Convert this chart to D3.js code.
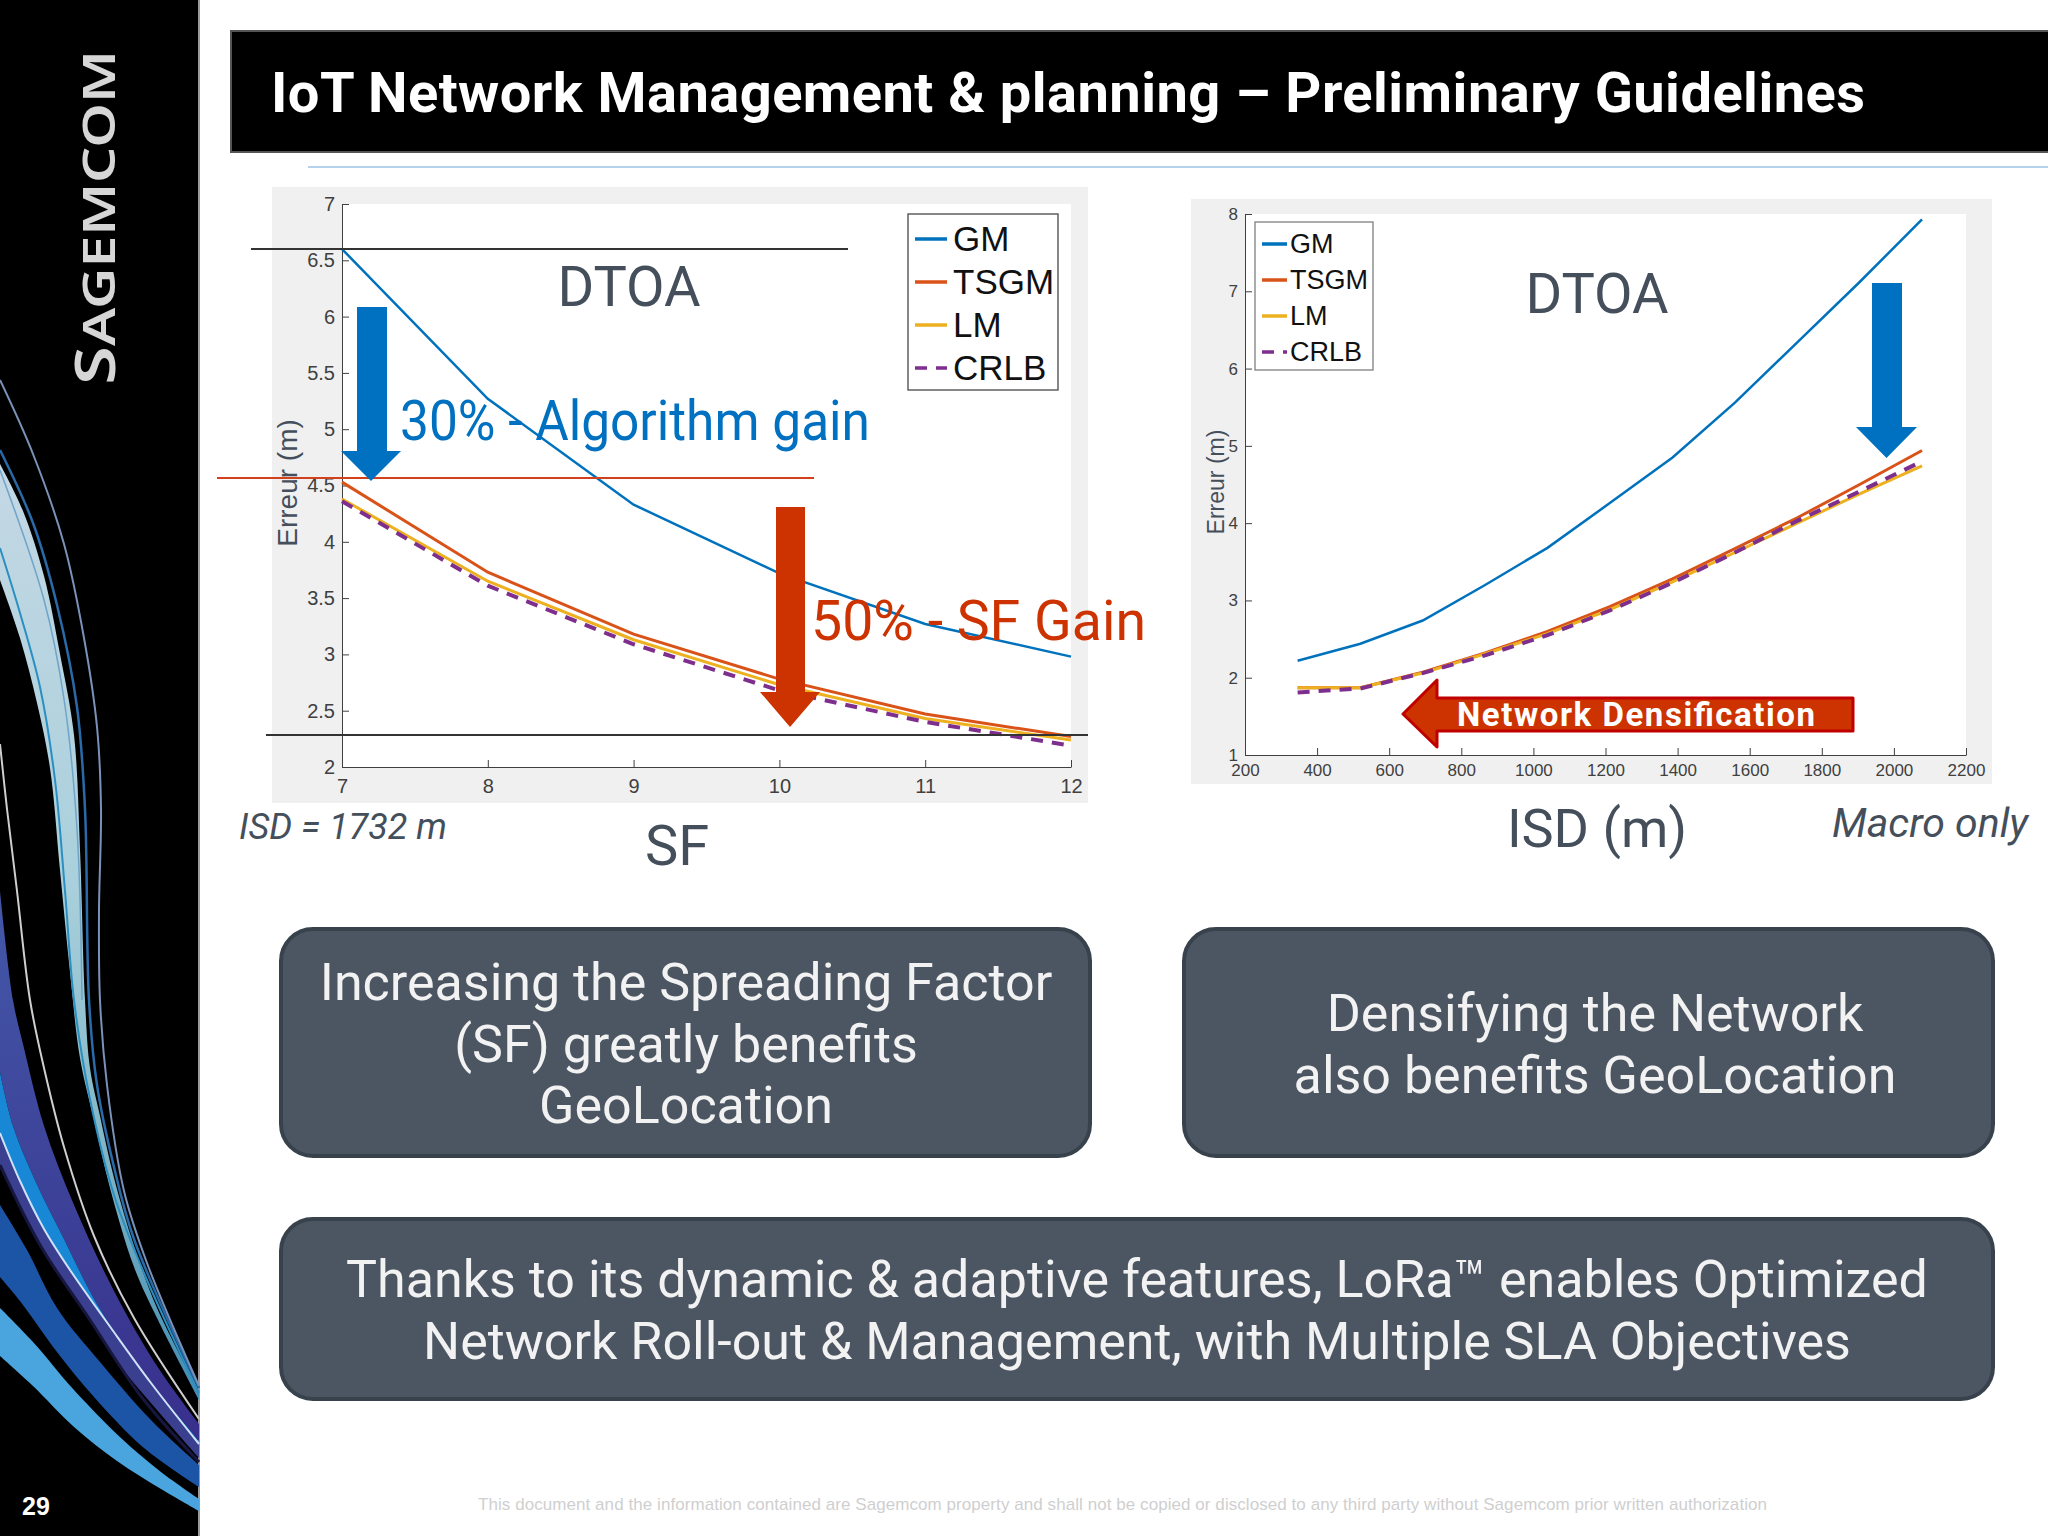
<!DOCTYPE html>
<head>
  <meta charset="utf-8">
  <script src="https://d3js.org/d3.v7.min.js"></script>
  <style>
    body { margin:0; background:#fff; }
    svg { display:block; }
    text { font-family:Roboto, sans-serif; }
    .axis text { font-family:"Liberation Sans", sans-serif; fill:#404040; }
    .axis path, .axis line { stroke:#404040; }
  </style>
</head>

<body>
  <script>

    // left chart, error against spreading factor
    var sfValues = [7, 8, 9, 10, 11, 12];
    var sfGM = [6.6, 5.27, 4.33, 3.72, 3.27, 2.98];
    var sfTSGM = [4.53, 3.73, 3.18, 2.78, 2.47, 2.27];
    var sfLM = [4.38, 3.65, 3.13, 2.73, 2.43, 2.24];
    var sfCRLB = [4.36, 3.61, 3.09, 2.68, 2.40, 2.19];
    var sfYTicks = [2, 2.5, 3, 3.5, 4, 4.5, 5, 5.5, 6, 6.5, 7];

    // right chart, error against inter site distance
    var isdValues = [346, 520, 693, 866, 1039, 1212, 1386, 1559, 1732, 1905, 2078];
    var isdGM = [2.22, 2.44, 2.74, 3.2, 3.68, 4.26, 4.85, 5.56, 6.34, 7.12, 7.93];
    var isdTSGM = [1.87, 1.87, 2.07, 2.32, 2.6, 2.92, 3.28, 3.67, 4.07, 4.5, 4.94];
    var isdLM = [1.87, 1.87, 2.06, 2.31, 2.57, 2.88, 3.24, 3.62, 4.0, 4.38, 4.74];
    var isdCRLB = [1.81, 1.86, 2.06, 2.29, 2.55, 2.87, 3.23, 3.62, 4.03, 4.41, 4.8];
    var isdXTicks = [200, 400, 600, 800, 1000, 1200, 1400, 1600, 1800, 2000, 2200];
    var isdYTicks = [1, 2, 3, 4, 5, 6, 7, 8];

    var seriesNames = ["GM", "TSGM", "LM", "CRLB"];
    var seriesColors = ["#0072BD", "#D95319", "#EDB120", "#7E2F8E"];
    var seriesWidths = [2.5, 3, 3, 4];

    var textGrey = "#454f5b";
    var blue = "#0070c0";
    var red = "#cc3300";

    var svg = d3.select("body").append("svg")
      .attr("width", 2048)
      .attr("height", 1536);

    function label(parent, str, x, y, size, fill, anchor) {
      return parent.append("text")
        .attr("x", x).attr("y", y)
        .attr("font-size", size)
        .attr("fill", fill)
        .attr("text-anchor", anchor || "start")
        .text(str);
    }

    /* ---------- left band ---------- */

    var defs = svg.append("defs");
    var paleGrad = defs.append("linearGradient").attr("id", "pale")
      .attr("x1", 0).attr("y1", 0).attr("x2", 0).attr("y2", 1);
    paleGrad.append("stop").attr("offset", "0%").attr("stop-color", "#c4d8e4");
    paleGrad.append("stop").attr("offset", "45%").attr("stop-color", "#a9d0dc");
    paleGrad.append("stop").attr("offset", "75%").attr("stop-color", "#7fb3c4");
    paleGrad.append("stop").attr("offset", "100%").attr("stop-color", "#3f8cb4");

    var purpleGrad = defs.append("linearGradient").attr("id", "purple")
      .attr("x1", 0).attr("y1", 0).attr("x2", 0).attr("y2", 1);
    purpleGrad.append("stop").attr("offset", "0%").attr("stop-color", "#4358a8");
    purpleGrad.append("stop").attr("offset", "100%").attr("stop-color", "#382f8c");

    svg.append("rect").attr("width", 199).attr("height", 1536).attr("fill", "#000");
    svg.append("rect").attr("x", 198).attr("width", 2).attr("height", 1536).attr("fill", "#9a9a9a");

    var swoosh = d3.line().curve(d3.curveCatmullRom);

    // filled ribbons: upper edge left to right, then lower edge back
    function ribbon(upper, lower, fill) {
      svg.append("path")
        .attr("d", swoosh(upper) + "L" + swoosh(lower.slice().reverse()).slice(1) + "Z")
        .attr("fill", fill);
    }
    function thread(pts, stroke, w) {
      svg.append("path").attr("d", swoosh(pts))
        .attr("fill", "none").attr("stroke", stroke).attr("stroke-width", w);
    }

    var whiteEdge = [[0,1133],[20,1181],[44,1229],[70,1270],[111,1328],[151,1383],[199,1444]];

    ribbon([[0,891],[13,1000],[23,1044],[44,1126],[74,1205],[114,1291],[157,1366],[199,1424]],
           [[0,1072],[13,1126],[34,1178],[64,1239],[97,1304],[141,1369],[199,1441]], "url(#purple)");
    ribbon([[0,1072],[13,1126],[34,1178],[64,1239],[97,1304],[141,1369],[199,1441]],
           whiteEdge, "#1787d6");
    ribbon(whiteEdge,
           [[0,1168],[23,1212],[50,1260],[77,1301],[117,1362],[157,1410],[199,1458]], "#3a3f90");
    thread(whiteEdge, "#cfe2f8", 2);
    thread([[0,1165],[40,1245],[90,1320],[140,1395],[199,1462]], "#16163f", 3);
    ribbon([[0,1205],[27,1250],[57,1308],[100,1362],[151,1420],[199,1465]],
           [[0,1277],[20,1301],[57,1352],[94,1397],[144,1448],[199,1487]], "#1c54a6");
    ribbon([[0,1308],[33,1342],[74,1390],[121,1438],[161,1472],[199,1499]],
           [[0,1356],[33,1386],[74,1427],[117,1461],[161,1489],[199,1511]], "#4aa4de");

    ribbon([[0,464],[23,511],[44,576],[60,654],[74,735],[80,850],[85,1000],[90,1068],[100,1116],[114,1178],[134,1246],[157,1308],[199,1391]],
           [[0,580],[20,638],[37,703],[50,768],[60,870],[70,972],[80,1058],[94,1120],[110,1188],[134,1267],[157,1318],[199,1400]], "url(#pale)");

    thread([[0,548],[20,613],[40,687],[55,780],[65,891],[74,1000],[90,1099],[114,1195],[144,1273],[199,1393]], "#2a8fc0", 2);
    thread([[0,470],[44,600],[64,699],[77,829],[82,1000]], "#6fa3c8", 1.5);
    thread([[0,450],[33,523],[57,605],[77,707],[85,809],[89,1000],[97,1085],[114,1167],[134,1239],[199,1388]], "#2a6aa8", 2.5);
    thread([[0,380],[33,454],[64,544],[84,638],[97,727],[101,809],[99,911],[100,1000],[107,1085],[124,1191],[147,1263],[199,1386]], "#7a92b8", 2);
    thread([[0,744],[7,809],[17,891],[30,1000],[44,1068],[64,1147],[94,1236],[134,1318],[199,1419]], "#cfcfcf", 2);

    var logo = label(svg, "S", 115, 385, 56, "#d6d6d6")
      .attr("transform", "rotate(-90 115 385)")
      .attr("font-weight", 600)
      .style("font-family", "'Noto Sans', sans-serif")
      .attr("textLength", 335)
      .attr("lengthAdjust", "spacingAndGlyphs");
    logo.append("tspan").attr("font-size", 45).text("AGEMCOM");

    label(svg, "29", 22, 1515, 25, "#fff").attr("font-weight", 700)
      .style("font-family", "'Liberation Sans', sans-serif");

    /* ---------- title ---------- */

    svg.append("rect")
      .attr("x", 231).attr("y", 31).attr("width", 1820).attr("height", 121)
      .attr("fill", "#000").attr("stroke", "#555").attr("stroke-width", 2);
    label(svg, "IoT Network Management & planning \u2013 Preliminary Guidelines", 271, 112, 56, "#fff")
      .attr("font-weight", 700)
      .attr("textLength", 1594);
    svg.append("line")
      .attr("x1", 308).attr("x2", 2048).attr("y1", 167).attr("y2", 167)
      .attr("stroke", "#9dc3e6").attr("stroke-width", 1.5);

    /* ---------- charts ---------- */

    function drawChart(c) {
      var g = svg.append("g");

      g.append("rect")
        .attr("x", c.panel[0]).attr("y", c.panel[1])
        .attr("width", c.panel[2] - c.panel[0]).attr("height", c.panel[3] - c.panel[1])
        .attr("fill", "#f0f0f0");
      g.append("rect")
        .attr("x", c.plot.left).attr("y", c.plot.top)
        .attr("width", c.plot.right - c.plot.left).attr("height", c.plot.bottom - c.plot.top)
        .attr("fill", "#fff");

      var x = d3.scaleLinear().domain(c.xDomain).range([c.plot.left, c.plot.right]);
      var y = d3.scaleLinear().domain(c.yDomain).range([c.plot.bottom, c.plot.top]);

      g.append("g").attr("class", "axis")
        .attr("transform", "translate(0," + c.plot.bottom + ")")
        .call(d3.axisBottom(x).tickValues(c.xTicks).tickFormat(function(d) { return d; })
          .tickSizeInner(-7).tickSizeOuter(0).tickPadding(c.xPad))
        .selectAll("text").attr("font-size", c.tickSize);

      g.append("g").attr("class", "axis")
        .attr("transform", "translate(" + c.plot.left + ",0)")
        .call(d3.axisLeft(y).tickValues(c.yTicks).tickFormat(function(d) { return d; })
          .tickSizeInner(-7).tickSizeOuter(0).tickPadding(7))
        .selectAll("text").attr("font-size", c.tickSize);

      var line = d3.line()
        .x(function(d, i) { return x(c.xValues[i]); })
        .y(function(d) { return y(d); });

      c.series.forEach(function(values, i) {
        g.append("path")
          .attr("d", line(values))
          .attr("fill", "none")
          .attr("stroke", seriesColors[i])
          .attr("stroke-width", seriesWidths[i])
          .attr("stroke-dasharray", seriesNames[i] === "CRLB" ? "12,9" : null);
      });

      // legend
      var lg = g.append("g");
      lg.append("rect")
        .attr("x", c.legend.x).attr("y", c.legend.y)
        .attr("width", c.legend.w).attr("height", c.legend.h)
        .attr("fill", "#fff").attr("stroke", c.legend.stroke).attr("stroke-width", 1.4);
      seriesNames.forEach(function(name, i) {
        var ly = c.legend.y + c.legend.first + i * c.legend.step;
        lg.append("line")
          .attr("x1", c.legend.x + 7).attr("x2", c.legend.x + c.legend.lineW)
          .attr("y1", ly).attr("y2", ly)
          .attr("stroke", seriesColors[i]).attr("stroke-width", 3.5)
          .attr("stroke-dasharray", name === "CRLB" ? "12,9" : null);
        label(lg, name, c.legend.x + c.legend.lineW + c.legend.gap, ly + c.legend.size * 0.36 - 1, c.legend.size, "#111")
          .style("font-family", "'Liberation Sans', sans-serif");
      });

      label(g, "Erreur (m)", 0, 0, c.yLabelSize, textGrey, "middle")
        .attr("transform", "translate(" + c.yLabelX + "," + c.yLabelY + ") rotate(-90)")
        .style("font-family", "'Liberation Sans', sans-serif");
    }

    drawChart({
      panel: [272, 187, 1088, 803],
      plot: { left: 342, right: 1071, top: 204, bottom: 767 },
      xDomain: [7, 12], yDomain: [2, 7],
      xTicks: sfValues, yTicks: sfYTicks,
      xValues: sfValues,
      series: [sfGM, sfTSGM, sfLM, sfCRLB],
      tickSize: 20, xPad: 12,
      legend: { x: 908, y: 214, w: 150, h: 176, first: 25, step: 43, lineW: 39, gap: 6, size: 35, stroke: "#555" },
      yLabelSize: 28, yLabelX: 297, yLabelY: 483
    });

    drawChart({
      panel: [1191, 199, 1992, 784],
      plot: { left: 1245, right: 1966, top: 214, bottom: 755 },
      xDomain: [200, 2200], yDomain: [1, 8],
      xTicks: isdXTicks, yTicks: isdYTicks,
      xValues: isdValues,
      series: [isdGM, isdTSGM, isdLM, isdCRLB],
      tickSize: 17, xPad: 9,
      legend: { x: 1255, y: 222, w: 118, h: 148, first: 22, step: 36, lineW: 32, gap: 3, size: 27, stroke: "#888" },
      yLabelSize: 23, yLabelX: 1224, yLabelY: 482
    });

    /* ---------- annotations ---------- */

    function rule(x1, x2, yy, stroke) {
      svg.append("line")
        .attr("x1", x1).attr("x2", x2).attr("y1", yy).attr("y2", yy)
        .attr("stroke", stroke).attr("stroke-width", 1.8);
    }
    rule(251, 848, 249, "#333");
    rule(217, 814, 478, "#d2401c");
    rule(266, 1088, 735, "#333");

    function downArrow(x0, x1, top, headY, hx0, hx1, tip, fill) {
      var mid = (hx0 + hx1) / 2;
      svg.append("path")
        .attr("d", d3.line()([[x0, top], [x1, top], [x1, headY], [hx1, headY], [mid, tip], [hx0, headY], [x0, headY]]) + "Z")
        .attr("fill", fill);
    }
    downArrow(357, 387, 307, 451, 341, 401, 481, blue);
    downArrow(776, 805, 507, 692, 760, 820, 727, red);
    downArrow(1872, 1902, 283, 427, 1856, 1917, 458, blue);

    svg.append("path")
      .attr("d", d3.line()([[1403, 714], [1437, 680], [1437, 698], [1853, 698], [1853, 731], [1437, 731], [1437, 747]]) + "Z")
      .attr("fill", red).attr("stroke", "#c00000").attr("stroke-width", 3).attr("stroke-linejoin", "round");
    label(svg, "Network Densification", 1636, 726, 33, "#fff", "middle")
      .attr("font-weight", 700).attr("textLength", 358);

    label(svg, "DTOA", 629, 306, 56, textGrey, "middle");
    label(svg, "DTOA", 1597, 313, 56, textGrey, "middle");
    label(svg, "30% - Algorithm gain", 400, 440, 56, blue)
      .attr("textLength", 470).attr("lengthAdjust", "spacingAndGlyphs");
    label(svg, "50% - SF Gain", 811, 640, 55, red)
      .attr("textLength", 335).attr("lengthAdjust", "spacingAndGlyphs");
    label(svg, "SF", 677, 865, 56, textGrey, "middle");
    label(svg, "ISD (m)", 1597, 847, 54, textGrey, "middle");
    label(svg, "ISD = 1732 m", 239, 839, 36, textGrey).attr("font-style", "italic");
    label(svg, "Macro only", 1832, 837, 41, textGrey).attr("font-style", "italic");

    /* ---------- message boxes ---------- */

    function box(x0, y0, x1, y1, lines, cx, firstBase) {
      svg.append("rect")
        .attr("x", x0).attr("y", y0)
        .attr("width", x1 - x0).attr("height", y1 - y0)
        .attr("rx", 32).attr("ry", 32)
        .attr("fill", "#4c5663").attr("stroke", "#38424d").attr("stroke-width", 4);
      lines.forEach(function(str, i) {
        label(svg, str, cx, firstBase + i * 61.5, 52, "#f2f2f2", "middle");
      });
    }
    box(281, 929, 1090, 1156,
      ["Increasing the Spreading Factor", "(SF) greatly benefits", "GeoLocation"], 686, 1000);
    box(1184, 929, 1993, 1156,
      ["Densifying the Network", "also benefits GeoLocation"], 1595, 1031);
    box(281, 1219, 1993, 1399,
      ["Thanks to its dynamic & adaptive features, LoRa\u2122 enables Optimized",
       "Network Roll-out & Management, with Multiple SLA Objectives"], 1137, 1297);

    label(svg, "This document and the information contained are Sagemcom property and shall not be copied or disclosed to any third party without Sagemcom prior written authorization",
      478, 1510, 17, "#cfcfcf")
      .style("font-family", "'Liberation Sans', sans-serif")
      .attr("textLength", 1289);

  </script>
</body>
